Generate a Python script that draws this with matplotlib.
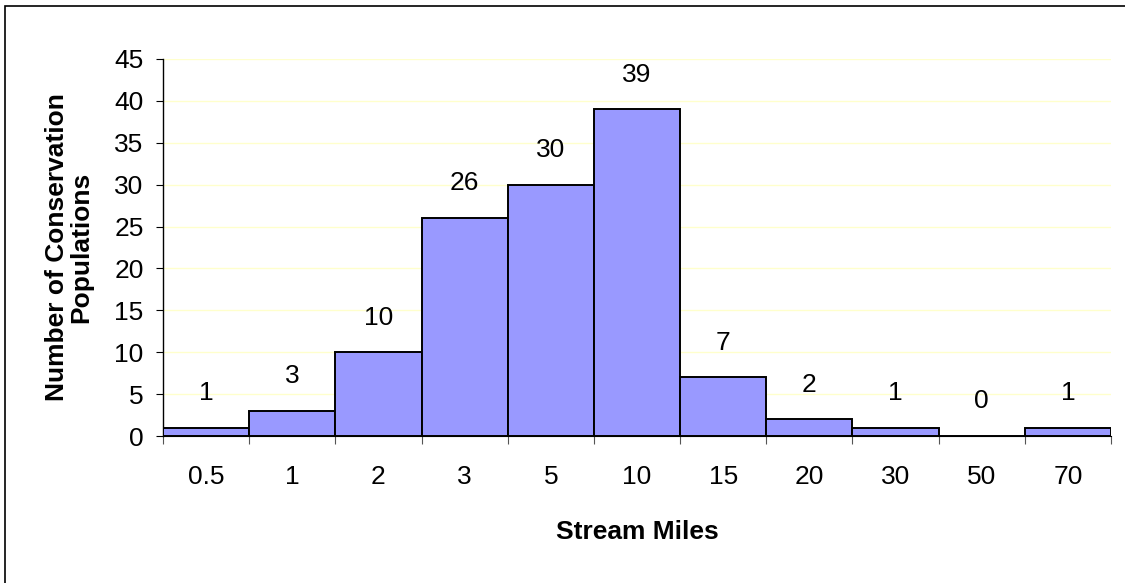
import matplotlib.pyplot as plt
from matplotlib.patches import Rectangle

# Stream mile classes and number of conservation populations in each
categories = ['0.5', '1', '2', '3', '5', '10', '15', '20', '30', '50', '70']
counts = [1, 3, 10, 26, 30, 39, 7, 2, 1, 0, 1]

plt.rcParams['font.family'] = ['Liberation Sans', 'DejaVu Sans']

fig = plt.figure(figsize=(11.25, 5.83), dpi=100)
ax = fig.add_axes([0.1449, 0.2521, 0.8427, 0.6467])

x = list(range(len(categories)))
ax.bar(x, counts, width=1.0, color='#9999FF', edgecolor='black',
       linewidth=1.4, zorder=3)

# value labels above each bar
for xi, c in zip(x, counts):
    ax.annotate(str(c), (xi, c), xytext=(0, 25), textcoords='offset points',
                ha='center', va='center', fontsize=19)

ax.set_xlim(-0.5, len(categories) - 0.5)
ax.set_ylim(0, 45)
ax.set_yticks(range(0, 46, 5))
ax.yaxis.grid(True, color='#FFFFCC', linewidth=1, zorder=0)

# ticks sit between the bars, labels centred on the bars
ax.set_xticks([i - 0.5 for i in range(len(categories) + 1)])
ax.set_xticklabels([])
ax.set_xticks(x, minor=True)
ax.set_xticklabels(categories, minor=True)
ax.tick_params(axis='x', which='major', length=6, width=0.8, color='#555555')
ax.tick_params(axis='x', which='minor', length=0, pad=21, labelsize=19)
ax.tick_params(axis='y', length=5, width=0.8, pad=9, labelsize=19)

for side in ['top', 'right']:
    ax.spines[side].set_visible(False)
ax.spines['left'].set_linewidth(1.0)
ax.spines['bottom'].set_linewidth(0.8)

ax.set_xlabel('Stream Miles', fontsize=19, fontweight='bold', labelpad=22)
ax.set_ylabel('Number of Conservation\nPopulations', fontsize=19,
              fontweight='bold', labelpad=15, linespacing=1.0)

# chart area border (top and left edges visible)
fig.add_artist(Rectangle((5 / 1125, -0.1), 1.2, 1 - 6 / 583 + 0.1,
                         transform=fig.transFigure, fill=False,
                         edgecolor='black', linewidth=1.2))

fig.savefig('out.png', dpi=100)
